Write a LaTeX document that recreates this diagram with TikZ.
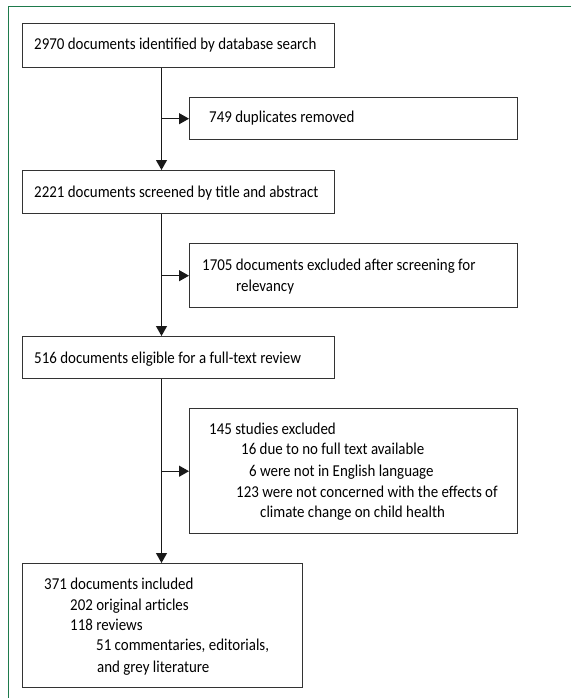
\documentclass[tikz,border=0pt]{standalone}
\usepackage{fontspec}
\setmainfont[FakeStretch=0.9]{Carlito}
\usetikzlibrary{arrows.meta}
\definecolor{framegreen}{HTML}{1E7A4C}
\definecolor{boxline}{HTML}{333333}
\begin{document}
\begin{tikzpicture}[x=1pt,y=-1pt,
  font=\fontsize{16.6}{19}\selectfont,
  box/.style={draw=boxline, line width=1.4pt, rectangle, inner sep=0pt, anchor=north west},
  txt/.style={anchor=base west, inner sep=0pt, text=black},
  conn/.style={draw=black!90, line width=1.1pt, -{Triangle[width=11pt,length=10pt]}},
  framestyle/.style={draw=framegreen, line width=1pt}]
\useasboundingbox (0,0) rectangle (571,698);
\draw[framestyle] (571,7) -- (8,7) -- (8,698);
% boxes
\node[box, minimum width=312pt, minimum height=44pt] (b1) at (22,23) {};
\node[box, minimum width=328pt, minimum height=42pt] (b2) at (189,97) {};
\node[box, minimum width=312pt, minimum height=43pt] (b3) at (22,170) {};
\node[box, minimum width=328pt, minimum height=64pt] (b4) at (189,243) {};
\node[box, minimum width=312pt, minimum height=42pt] (b5) at (22,336) {};
\node[box, minimum width=328pt, minimum height=125pt] (b6) at (189,408) {};
\node[box, minimum width=280pt, minimum height=124pt] (b7) at (22,563) {};
% texts
\node[txt] (t1) at (34,50) {2970 documents identified by database search};
\node[txt] (t2) at (209,123) {749 duplicates removed};
\node[txt] (t3) at (34,197) {2221 documents screened by title and abstract};
\node[txt] (t4a) at (202,270) {1705 documents excluded after screening for};
\node[txt] (t4b) at (236,291) {relevancy};
\node[txt] (t5) at (34,363) {516 documents eligible for a full-text review};
\node[txt] (t6a) at (209,434) {145 studies excluded};
\node[txt] (t6b) at (241,454) {16 due to no full text available};
\node[txt] (t6c) at (249,476) {6 were not in English language};
\node[txt] (t6d) at (236,497) {123 were not concerned with the effects of};
\node[txt] (t6e) at (260,517) {climate change on child health};
\node[txt] (t7a) at (44,589) {371 documents included};
\node[txt] (t7b) at (70,610) {202 original articles};
\node[txt] (t7c) at (70,630) {118 reviews};
\node[txt] (t7d) at (96,650) {51 commentaries, editorials,};
\node[txt] (t7e) at (97,672) {and grey literature};
% connectors
\coordinate (spine) at (161.5,0);
\draw[conn] (b1.south -| spine) -- (b3.north -| spine);
\draw[conn] (b3.south -| spine) -- (b5.north -| spine);
\draw[conn] (b5.south -| spine) -- (b7.north -| spine);
\draw[conn] (spine |- b2.west) -- (b2.west);
\draw[conn] (spine |- b4.west) -- (b4.west);
\draw[conn] (spine |- b6.west) -- (b6.west);
\end{tikzpicture}
\end{document}
